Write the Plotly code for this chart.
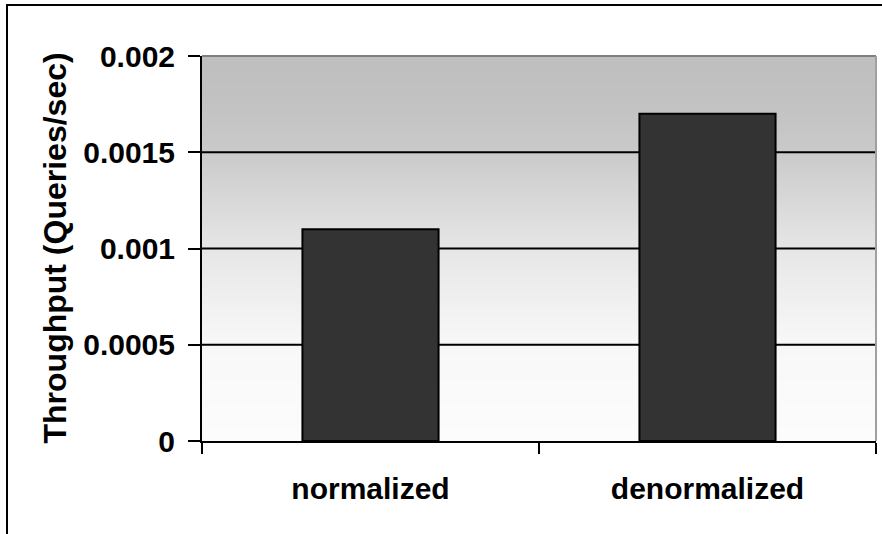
import plotly.graph_objects as go

# Throughput of the two schema variants
categories = ["normalized", "denormalized"]
throughput = [0.0011, 0.0017]

y_tickvals = [0, 0.0005, 0.001, 0.0015, 0.002]
y_ticktext = ["0", "0.0005", "0.001", "0.0015", "0.002"]

W, H = 882, 534
L, R, T, B = 202, 6, 56, 93
plot_w = W - L - R
plot_h = H - T - B

FONT = "Arial, 'Liberation Sans', sans-serif"


def px_x(px):
    return (px - L) / plot_w


def px_y(py):
    return (H - B - py) / plot_h


fig = go.Figure()
fig.add_trace(go.Bar(
    x=categories,
    y=throughput,
    width=0.404,
    marker=dict(color="#333333", line=dict(color="#000000", width=2)),
    hoverinfo="x+y",
))

shapes = []

# Grey gradient behind the bars (dark at the top, near white at the bottom)
stops = [(0.0, 252), (0.25, 248), (0.5, 230), (0.75, 202), (0.88, 194), (1.0, 190)]


def shade(t):
    for (t0, c0), (t1, c1) in zip(stops[:-1], stops[1:]):
        if t0 <= t <= t1:
            return c0 + (c1 - c0) * (t - t0) / (t1 - t0)
    return stops[-1][1]


n_bands = 96
for i in range(n_bands):
    y0 = i / n_bands
    y1 = (i + 1) / n_bands
    g = int(round(shade((y0 + y1) / 2)))
    shapes.append(dict(
        type="rect", xref="paper", yref="paper",
        x0=0, x1=1, y0=y0, y1=y1 + 0.002,
        fillcolor=f"rgb({g},{g},{g})", line=dict(width=0), layer="below",
    ))

# Horizontal gridlines at the inner tick values
for v in y_tickvals[1:-1]:
    shapes.append(dict(
        type="line", xref="paper", yref="y",
        x0=0, x1=1, y0=v, y1=v,
        line=dict(color="#000000", width=2), layer="below",
    ))

# Grey top and right edges of the plot area
shapes.append(dict(type="line", xref="paper", yref="paper", x0=0, x1=1, y0=1, y1=1,
                   line=dict(color="#808080", width=2), layer="above"))
shapes.append(dict(type="line", xref="paper", yref="paper", x0=1, x1=1, y0=0, y1=1,
                   line=dict(color="#a0a0a0", width=2), layer="above"))

# Chart-area frame
shapes.append(dict(
    type="rect", xref="paper", yref="paper",
    x0=px_x(7), x1=px_x(W + 10), y0=px_y(H + 10), y1=px_y(5),
    line=dict(color="#000000", width=2), fillcolor="rgba(0,0,0,0)", layer="above",
))

fig.update_layout(
    width=W, height=H,
    margin=dict(l=L, r=R, t=T, b=B, pad=0),
    paper_bgcolor="#ffffff",
    plot_bgcolor="#ffffff",
    showlegend=False,
    bargap=0.6,
    font=dict(family=FONT, color="#000000"),
    shapes=shapes,
    annotations=[dict(
        text="<b>Throughput (Queries/sec)</b>",
        xref="paper", yref="paper",
        x=px_x(54), y=0.5, xanchor="center", yanchor="middle",
        textangle=-90, showarrow=False,
        font=dict(family=FONT, size=32, color="#000000"),
    )],
)

fig.update_xaxes(
    type="category",
    tickson="boundaries",
    ticks="outside", ticklen=11, tickwidth=2, tickcolor="#000000",
    showline=True, linecolor="#000000", linewidth=2,
    showgrid=False,
    tickfont=dict(family=FONT, size=30, color="#000000", weight="bold"),
    ticklabelstandoff=20,
)

fig.update_yaxes(
    range=[0, 0.002],
    tickvals=y_tickvals, ticktext=y_ticktext,
    ticks="outside", ticklen=12, tickwidth=2, tickcolor="#000000",
    showline=True, linecolor="#000000", linewidth=2,
    showgrid=False, zeroline=False,
    tickfont=dict(family=FONT, size=30, color="#000000", weight="bold"),
    ticklabelstandoff=7,
)

fig.write_html("out.html")
